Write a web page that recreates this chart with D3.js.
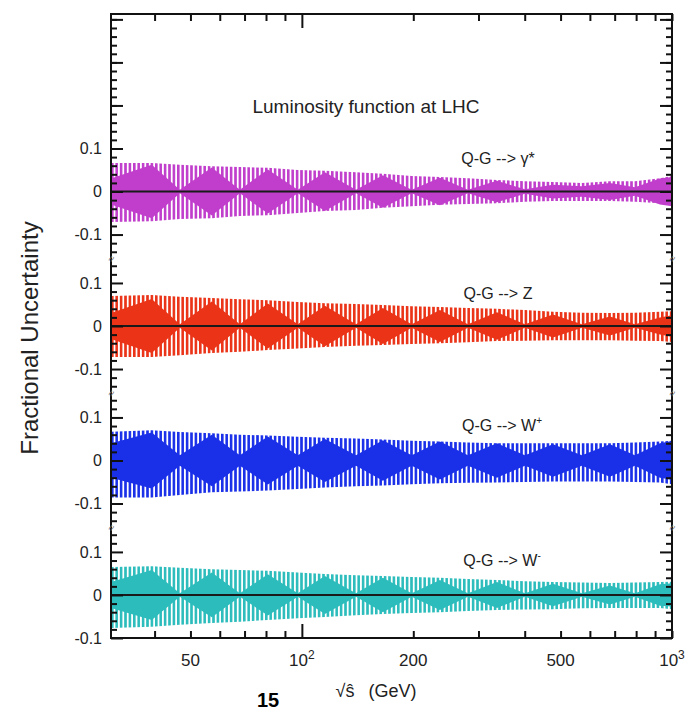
<!DOCTYPE html>
<html><head><meta charset="utf-8">
<script src="https://cdn.jsdelivr.net/npm/d3@7"></script>
<style>body{margin:0;background:#fff}svg{display:block;font-family:"Liberation Sans",Arial,sans-serif}</style>
</head><body><svg id="c" width="694" height="713"></svg>
<script>
// ---------- data ----------
const gridGeV = [30.5, 39.3, 46.8, 57.1, 68, 80.9, 97.5, 115.4, 140, 165.5, 198, 236, 281, 336.5, 400.6, 476.8, 571, 679.5, 794, 928, 1000];

const purpleUpper = [.066,.066,.062,.059,.057,.055,.050,.048,.045,.041,.036,.034,.031,.027,.024,.022,.020,.024,.024,.031,.036];
const purpleLower = [-.071,-.069,-.064,-.062,-.057,-.055,-.050,-.045,-.043,-.038,-.034,-.031,-.029,-.027,-.024,-.022,-.022,-.022,-.024,-.027,-.031];
const purpleCore  = [.030,.062,.004,.056,.004,.051,.004,.045,.004,.038,.004,.032,.004,.025,.005,.016,.012,.020,.010,.030,.034];

const redUpper = [.070,.072,.068,.065,.062,.060,.056,.053,.051,.049,.046,.044,.042,.040,.037,.033,.031,.030,.031,.033,.034];
const redLower = [-.072,-.072,-.068,-.063,-.060,-.056,-.052,-.049,-.046,-.044,-.042,-.040,-.038,-.035,-.034,-.033,-.033,-.033,-.034,-.035,-.037];
const redCore  = [.030,.063,.004,.057,.004,.052,.004,.047,.004,.042,.004,.037,.004,.032,.004,.027,.004,.022,.004,.020,.025];

const blueUpper = [.067,.070,.066,.063,.060,.058,.055,.053,.051,.049,.046,.044,.042,.040,.040,.040,.040,.040,.042,.044,.046];
const blueLower = [-.086,-.086,-.080,-.074,-.072,-.070,-.066,-.063,-.060,-.058,-.055,-.053,-.052,-.051,-.050,-.049,-.049,-.049,-.050,-.051,-.055];
const blueCore  = [.040,.065,.012,.060,.012,.056,.012,.050,.012,.047,.012,.044,.012,.040,.012,.038,.012,.038,.012,.040,.045];

const cyanUpper = [.065,.067,.063,.060,.058,.056,.052,.049,.046,.044,.042,.040,.037,.035,.032,.030,.029,.028,.029,.030,.031];
const cyanLower = [-.077,-.074,-.069,-.065,-.062,-.058,-.054,-.051,-.047,-.044,-.042,-.040,-.037,-.035,-.034,-.033,-.031,-.030,-.030,-.030,-.033];
const cyanCore  = [.030,.058,.004,.052,.004,.048,.004,.044,.004,.040,.004,.035,.004,.030,.004,.026,.004,.022,.004,.025,.027];

const seriesNames = ["γ*", "Z", "W", "W"];
const seriesSup   = ["", "", "+", "-"];
const seriesColors = ["#c03ecb", "#ea3317", "#1a30e8", "#2dbcbc"];
const seriesZeroLine = [true, true, false, true];

const xMajorTicks = [100];
const xMinorTicks = [40, 50, 60, 70, 80, 90, 200, 300, 400, 500, 600, 700, 800, 900, 1000];
const xTickLabels = [{v: 50, t: "50"}, {v: 100, t: "10", s: "2"}, {v: 200, t: "200"}, {v: 500, t: "500"}, {v: 1000, t: "10", s: "3"}];
const yMajorTicks = [-0.1, 0, 0.1];
const yTickLabels = ["-0.1", "0", "0.1"];

// ---------- layout ----------
const svg = d3.select("#c");
const L = 111, R = 672, T = 14, B = 638;
const x = d3.scaleLog().domain([30.5, 1000]).range([L, R]);
const yAll = d3.scaleLinear().domain([-0.1, 1.35]).range([B, T]);
const offsets = [0.9375, 0.625, 0.3125, 0];
const panelRanges = [[-0.156, 0.41], [-0.156, 0.156], [-0.156, 0.156], [-0.1, 0.156]];

const series = [
  {up: purpleUpper, lo: purpleLower, core: purpleCore},
  {up: redUpper, lo: redLower, core: redCore},
  {up: blueUpper, lo: blueLower, core: blueCore},
  {up: cyanUpper, lo: cyanLower, core: cyanCore}
];

const defs = svg.append("defs");
seriesColors.forEach((c, i) => {
  const p = defs.append("pattern").attr("id", "hatch" + i).attr("patternUnits", "userSpaceOnUse")
    .attr("width", 4.4).attr("height", 10).attr("x", L);
  p.append("rect").attr("x", 0).attr("y", 0).attr("width", 2.6).attr("height", 10).attr("fill", c);
});
defs.append("clipPath").attr("id", "plotclip").append("rect").attr("x", L).attr("y", T).attr("width", R - L).attr("height", B - T);

const plot = svg.append("g").attr("clip-path", "url(#plotclip)");

series.forEach((s, i) => {
  const off = offsets[i];
  const ys = d => yAll(d + off);
  const band = d3.area().x((d, j) => x(gridGeV[j])).y0((d, j) => ys(s.lo[j])).y1((d, j) => ys(s.up[j])).curve(d3.curveLinear);
  plot.append("path").attr("d", band(gridGeV)).attr("fill", `url(#hatch${i})`);
  const core = d3.area().x((d, j) => x(gridGeV[j])).y0((d, j) => ys(-s.core[j])).y1((d, j) => ys(s.core[j]));
  plot.append("path").attr("d", core(gridGeV)).attr("fill", seriesColors[i]);
  if (seriesZeroLine[i]) {
    plot.append("line").attr("x1", L).attr("x2", R).attr("y1", ys(0)).attr("y2", ys(0))
      .attr("stroke", "#1a1a1a").attr("stroke-width", 2);
  }
});

// ---------- axes ----------
const axG = svg.append("g");
function yPanelScale(i) {
  const [lo, hi] = panelRanges[i];
  return d3.scaleLinear().domain([lo, hi]).range([yAll(lo + offsets[i]), yAll(hi + offsets[i])]);
}
panelRanges.forEach((r, i) => {
  const ys = yPanelScale(i);
  const minor = d3.range(Math.ceil(r[0] / 0.02 - 1e-6), Math.floor(r[1] / 0.02 + 1e-6) + 1).map(k => +(k * 0.02).toFixed(3))
    .filter(v => !yMajorTicks.some(m => Math.abs(m - v) < 1e-6));
  const majors = d3.range(Math.ceil(r[0] / 0.1 - 1e-6), Math.floor(r[1] / 0.1 + 1e-6) + 1).map(k => +(k * 0.1).toFixed(3));
  axG.append("g").attr("transform", `translate(${L},0)`).call(d3.axisLeft(ys).tickValues(minor).tickSize(-6).tickFormat(""));
  axG.append("g").attr("transform", `translate(${L},0)`).call(d3.axisLeft(ys).tickValues(majors).tickSize(-12).tickFormat(""));
  axG.append("g").attr("transform", `translate(${L},0)`).call(d3.axisLeft(ys).tickValues(yMajorTicks).tickSize(0).tickPadding(9)
    .tickFormat((d, k) => yTickLabels[k]));
  axG.append("g").attr("transform", `translate(${R},0)`).call(d3.axisRight(ys).tickValues(minor).tickSize(-6).tickFormat(""));
  axG.append("g").attr("transform", `translate(${R},0)`).call(d3.axisRight(ys).tickValues(majors).tickSize(-12).tickFormat(""));
});
axG.append("g").attr("transform", `translate(0,${B})`).call(d3.axisBottom(x).tickValues(xMinorTicks).tickSize(-7).tickFormat(""));
axG.append("g").attr("transform", `translate(0,${B})`).call(d3.axisBottom(x).tickValues(xMajorTicks).tickSize(-14).tickFormat(""));
axG.append("g").attr("transform", `translate(0,${T})`).call(d3.axisTop(x).tickValues(xMinorTicks).tickSize(-7).tickFormat(""));
axG.append("g").attr("transform", `translate(0,${T})`).call(d3.axisTop(x).tickValues(xMajorTicks).tickSize(-14).tickFormat(""));
axG.selectAll(".domain").remove();
axG.selectAll("line").attr("stroke", "#111").attr("stroke-width", 2);
axG.selectAll("text").attr("font-size", 16).attr("fill", "#222").attr("font-family", "Liberation Sans, Arial, sans-serif");

// x tick labels
const xl = svg.append("g").attr("font-size", 17).attr("fill", "#222");
xTickLabels.forEach(d => {
  const t = xl.append("text").attr("x", x(d.v)).attr("y", B + 28).attr("text-anchor", "middle");
  t.append("tspan").text(d.t);
  if (d.s) t.append("tspan").attr("dy", -7).attr("font-size", 12).text(d.s);
});

// frame
svg.append("rect").attr("x", L).attr("y", T).attr("width", R - L).attr("height", B - T)
  .attr("fill", "none").attr("stroke", "#111").attr("stroke-width", 2);

// break marks
offsets.slice(0, 3).forEach((off, i) => {
  const yy = yAll(off - 0.156);
  [L, R].forEach(xx => {
    svg.append("text").attr("x", xx).attr("y", yy + 4).attr("text-anchor", "middle").attr("font-size", 11)
      .attr("fill", "#777").text("≈").attr("transform", `rotate(-60,${xx},${yy})`);
  });
});

// texts
svg.append("text").attr("x", 366).attr("y", 113).attr("text-anchor", "middle").attr("font-size", 19).attr("fill", "#222")
  .text("Luminosity function at LHC");
const labelPos = [[498, 164], [498, 299], [502, 431], [502, 566]];
seriesNames.forEach((n, i) => {
  const t = svg.append("text").attr("x", labelPos[i][0]).attr("y", labelPos[i][1]).attr("text-anchor", "middle")
    .attr("font-size", 16).attr("fill", "#222");
  t.append("tspan").text("Q-G --> " + n);
  if (seriesSup[i]) t.append("tspan").attr("dy", -7).attr("font-size", 10).text(seriesSup[i]);
});
svg.append("text").attr("transform", "translate(38,338) rotate(-90)").attr("text-anchor", "middle")
  .attr("font-size", 24).attr("fill", "#222").text("Fractional Uncertainty");
const xt = svg.append("text").attr("x", 376).attr("y", 697).attr("text-anchor", "middle").attr("font-size", 18).attr("fill", "#222");
xt.append("tspan").text("√ŝ");
xt.append("tspan").attr("dx", 14).text("(GeV)");
svg.append("text").attr("x", 268).attr("y", 707).attr("text-anchor", "middle").attr("font-size", 20)
  .attr("font-weight", "bold").attr("fill", "#000").text("15");
</script></body></html>
